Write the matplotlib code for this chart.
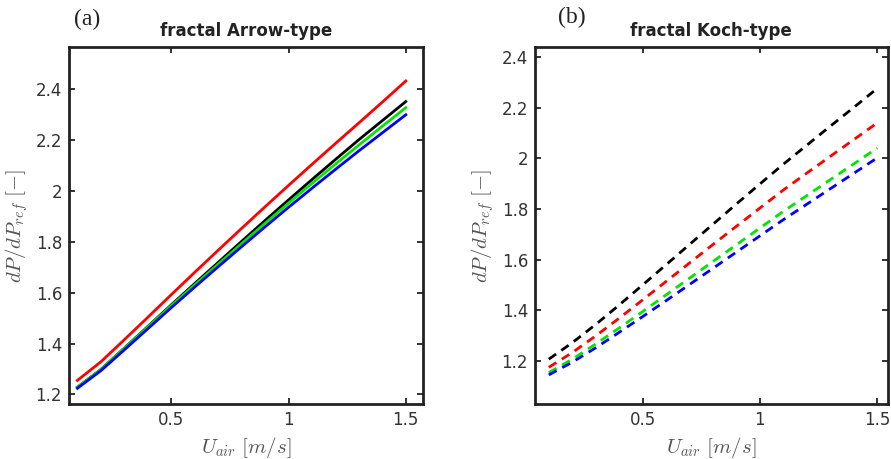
import matplotlib
matplotlib.use('Agg')
import matplotlib.pyplot as plt

# air velocity [m/s]
u_air = [0.1, 0.2, 0.3, 0.4, 0.5, 0.6, 0.7, 0.8, 0.9, 1.0, 1.1, 1.2, 1.3, 1.4, 1.5]

# fractal Arrow-type (solid)
arrow_red = [1.255, 1.328, 1.415, 1.503, 1.592, 1.680, 1.767, 1.853, 1.938, 2.022, 2.105, 2.187, 2.268, 2.350, 2.433]
arrow_black = [1.228, 1.298, 1.382, 1.467, 1.552, 1.636, 1.719, 1.802, 1.884, 1.965, 2.045, 2.124, 2.202, 2.277, 2.352]
arrow_green = [1.228, 1.298, 1.381, 1.465, 1.549, 1.631, 1.712, 1.793, 1.873, 1.952, 2.030, 2.106, 2.181, 2.255, 2.328]
arrow_blue = [1.224, 1.293, 1.375, 1.458, 1.541, 1.622, 1.702, 1.781, 1.859, 1.936, 2.011, 2.085, 2.158, 2.229, 2.300]

# fractal Koch-type (dashed)
koch_black = [1.207, 1.272, 1.344, 1.421, 1.500, 1.580, 1.660, 1.740, 1.820, 1.899, 1.977, 2.052, 2.127, 2.201, 2.276]
koch_red = [1.175, 1.233, 1.299, 1.369, 1.441, 1.514, 1.587, 1.660, 1.732, 1.804, 1.875, 1.942, 2.008, 2.074, 2.140]
koch_green = [1.154, 1.207, 1.267, 1.330, 1.395, 1.461, 1.527, 1.593, 1.659, 1.725, 1.791, 1.853, 1.916, 1.978, 2.041]
koch_blue = [1.145, 1.195, 1.252, 1.313, 1.375, 1.438, 1.502, 1.566, 1.630, 1.694, 1.758, 1.819, 1.880, 1.941, 2.002]

plt.rcParams['mathtext.fontset'] = 'cm'
plt.rcParams['font.family'] = ['DejaVu Sans']

GREEN = '#00e600'
tick_col = '#333333'
label_col = '#555555'

fig = plt.figure(figsize=(8.91, 4.59), dpi=100)
ax1 = fig.add_axes([0.0774, 0.1198, 0.397, 0.778])
ax2 = fig.add_axes([0.6004, 0.1198, 0.396, 0.778])


def style(ax, title, yticks, ylim, xlim):
    ax.set_xlim(*xlim)
    ax.set_ylim(*ylim)
    ax.set_xticks([0.5, 1, 1.5])
    ax.set_xticklabels(['0.5', '1', '1.5'])
    ax.set_yticks(yticks)
    ax.set_yticklabels([('%g' % t) for t in yticks])
    ax.tick_params(direction='in', length=4, width=1.3, top=True, right=True,
                   labelsize=12, colors='#222222', labelcolor=tick_col, pad=5)
    for s in ax.spines.values():
        s.set_linewidth(2)
        s.set_color('#222222')
    ax.set_title(title, fontsize=12, fontweight='bold', color='#222222', pad=8)
    ax.set_xlabel(r'$U_{air}\ [m/s]$', fontsize=15, color=label_col, labelpad=4)
    ax.set_ylabel(r'$dP/dP_{ref}\ [-]$', fontsize=15, color=label_col, labelpad=4)


ax1.plot(u_air, arrow_red, color='red', lw=2)
ax1.plot(u_air, arrow_black, color='black', lw=2)
ax1.plot(u_air, arrow_green, color=GREEN, lw=2)
ax1.plot(u_air, arrow_blue, color='blue', lw=2)
style(ax1, 'fractal Arrow-type', [1.2, 1.4, 1.6, 1.8, 2.0, 2.2, 2.4], (1.162, 2.567), (0.064, 1.572))

dash = (0, (3.2, 2.3))
ax2.plot(u_air, koch_black, color='black', lw=2, ls=dash)
ax2.plot(u_air, koch_red, color='red', lw=2, ls=dash)
ax2.plot(u_air, koch_green, color=GREEN, lw=2, ls=dash)
ax2.plot(u_air, koch_blue, color='blue', lw=2, ls=dash)
style(ax2, 'fractal Koch-type', [1.2, 1.4, 1.6, 1.8, 2.0, 2.2, 2.4], (1.03, 2.44), (0.041, 1.545))

fig.text(0.098, 0.958, '(a)', family='Liberation Serif', fontsize=17, color='#222222', ha='center', va='center')
fig.text(0.642, 0.962, '(b)', family='Liberation Serif', fontsize=17, color='#222222', ha='center', va='center')

fig.savefig('out.png', dpi=100)
